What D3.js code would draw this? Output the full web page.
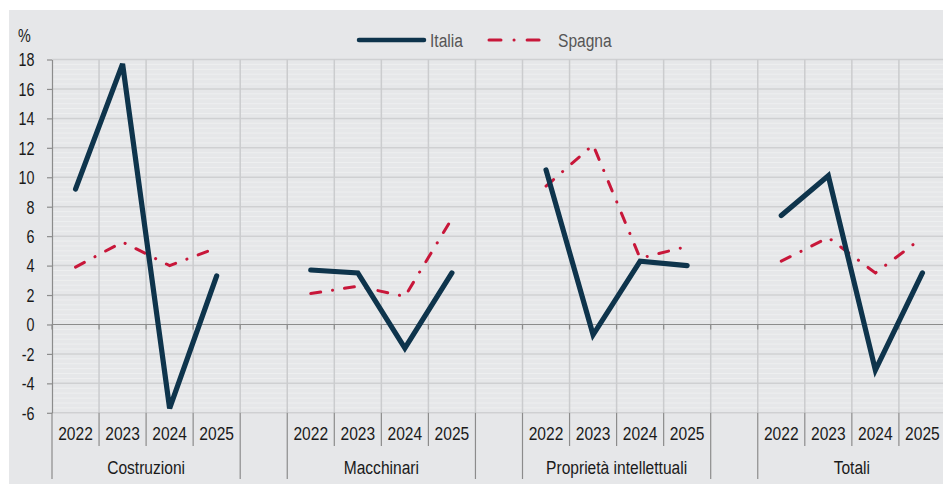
<!DOCTYPE html>
<html>
<head>
<meta charset="utf-8">
<script src="https://cdn.jsdelivr.net/npm/d3@7"></script>
<style>
  body { margin: 0; background: #fff; }
  svg { display: block; font-family: "Liberation Sans", Arial, sans-serif; }
</style>
</head>
<body>
<div id="chart"></div>
<script>
// categories and series
var years = ["2022", "2023", "2024", "2025"];
var groups = ["Costruzioni", "Macchinari", "Proprietà intellettuali", "Totali"];
var italia = [
    [9.2, 17.7, -5.7, 3.3],
    [3.7, 3.5, -1.6, 3.5],
    [10.5, -0.7, 4.3, 4.0],
    [7.4, 10.1, -3.1, 3.5]
];
var spagna = [
    [3.9, 5.6, 4.0, 5.2],
    [2.1, 2.6, 1.9, 7.2],
    [9.4, 12.2, 4.5, 5.3],
    [4.3, 5.9, 3.5, 5.9]
];
var yTicks = [-6, -4, -2, 0, 2, 4, 6, 8, 10, 12, 14, 16, 18];

var width = 943, height = 486;
var margin = { top: 59.5, left: 52, bottom: 412.8 };
var slotW = 47.05;
var squeeze = 0.82; // no narrow font installed, so squeeze text sideways

var svg = d3.select("#chart").append("svg")
    .attr("width", width)
    .attr("height", height);

// place a text at (px, py), squeezed horizontally
function narrowText(sel, px, py, size) {
    return sel.attr("x", 0).attr("y", 0)
        .attr("transform", `translate(${px},${py}) scale(${squeeze},1)`)
        .style("font-size", size + "px");
}

// grey panel
svg.append("rect")
    .attr("x", 9).attr("y", 10)
    .attr("width", width - 9).attr("height", 474)
    .attr("fill", "#e6e7e9");

// slots: 4 years per group, one empty slot between groups
var slots = [];
groups.forEach(function (g, gi) {
    years.forEach(function (yr) { slots.push(g + "|" + yr); });
    if (gi < groups.length - 1) slots.push("gap" + gi);
});

var x = d3.scaleBand()
    .domain(slots)
    .range([margin.left, margin.left + slots.length * slotW]);

var y = d3.scaleLinear()
    .domain([-6, 18])
    .range([margin.bottom, margin.top]);

var x0 = margin.left, x1 = margin.left + slots.length * slotW;

// faint stripes
svg.append("g").selectAll("line")
    .data(d3.range(-6, 18, 1 / 3))
    .enter().append("line")
    .attr("x1", x0).attr("x2", x1)
    .attr("y1", d => y(d)).attr("y2", d => y(d))
    .attr("stroke", "#eeeff0")
    .attr("stroke-width", 1);

// horizontal grid
svg.append("g").selectAll("line")
    .data(yTicks.filter(d => d !== 0))
    .enter().append("line")
    .attr("x1", x0).attr("x2", x1)
    .attr("y1", d => y(d)).attr("y2", d => y(d))
    .attr("stroke", "#cfd0d2")
    .attr("stroke-width", 1.5);

// vertical grid at slot boundaries
var bounds = slots.map(s => x(s)).concat([x1]);
svg.append("g").selectAll("line")
    .data(bounds.slice(1))
    .enter().append("line")
    .attr("x1", d => d).attr("x2", d => d)
    .attr("y1", margin.top).attr("y2", margin.bottom)
    .attr("stroke", "#cbccce")
    .attr("stroke-width", 1.5);

// zero line with ticks
svg.append("line")
    .attr("x1", x0).attr("x2", x1)
    .attr("y1", y(0)).attr("y2", y(0))
    .attr("stroke", "#8c8c8c")
    .attr("stroke-width", 1.2);
svg.append("g").selectAll("line")
    .data(bounds)
    .enter().append("line")
    .attr("x1", d => d).attr("x2", d => d)
    .attr("y1", y(0)).attr("y2", y(0) + 5)
    .attr("stroke", "#8c8c8c")
    .attr("stroke-width", 1.2);

// y axis (plain hyphen for negatives, like the original)
var yAxis = svg.append("g")
    .attr("transform", `translate(${x0},0)`)
    .call(d3.axisLeft(y).tickValues(yTicks).tickFormat(d => String(d))
        .tickSize(5).tickPadding(12).tickSizeOuter(0));
yAxis.select(".domain").attr("stroke", "#8c8c8c").attr("stroke-width", 1.2);
yAxis.selectAll(".tick line").attr("stroke", "#8c8c8c").attr("stroke-width", 1.2);
yAxis.selectAll(".tick text")
    .attr("fill", "#1a1a1a")
    .attr("dy", null)
    .style("font-family", "inherit")
    .each(function () {
        narrowText(d3.select(this), -17.5, 6.3, 17.5);
    });

narrowText(svg.append("text"), 18, 42, 17.5)
    .attr("fill", "#1a1a1a")
    .text("%");

// category axis below the plot
var lower = svg.append("g");
// short separators between years
slots.forEach(function (s) {
    if (s.indexOf("|") < 0) return;
    var yr = s.split("|")[1];
    if (yr !== years[0]) {
        lower.append("line")
            .attr("x1", x(s)).attr("x2", x(s))
            .attr("y1", margin.bottom).attr("y2", 446)
            .attr("stroke", "#8c8c8c").attr("stroke-width", 1.2);
    }
    narrowText(lower.append("text"), x(s) + x.bandwidth() / 2, 440, 19)
        .attr("text-anchor", "middle")
        .attr("fill", "#1a1a1a")
        .text(yr);
});
// long separators at group edges
groups.forEach(function (g) {
    var a = x(g + "|" + years[0]);
    var b = x(g + "|" + years[years.length - 1]) + x.bandwidth();
    [a, b].forEach(function (px) {
        lower.append("line")
            .attr("x1", px).attr("x2", px)
            .attr("y1", margin.bottom).attr("y2", 479)
            .attr("stroke", "#8c8c8c").attr("stroke-width", 1.2);
    });
    narrowText(lower.append("text"), (a + b) / 2, 474, 19)
        .attr("text-anchor", "middle")
        .attr("fill", "#1a1a1a")
        .text(g);
});

// lines, one piece per group
var line = d3.line()
    .x(d => x(d.slot) + x.bandwidth() / 2)
    .y(d => y(d.v));

function pieces(series) {
    return groups.map(function (g, gi) {
        return years.map(function (yr, j) { return { slot: g + "|" + yr, v: series[gi][j] }; });
    });
}

svg.append("g").selectAll("path")
    .data(pieces(spagna))
    .enter().append("path")
    .attr("d", line)
    .attr("fill", "none")
    .attr("stroke", "#c8173a")
    .attr("stroke-width", 3)
    .attr("stroke-linecap", "round")
    .attr("stroke-dasharray", "10,12,0.1,12");

svg.append("g").selectAll("path")
    .data(pieces(italia))
    .enter().append("path")
    .attr("d", line)
    .attr("fill", "none")
    .attr("stroke", "#0e344c")
    .attr("stroke-width", 5.2)
    .attr("stroke-linecap", "round")
    .attr("stroke-linejoin", "miter");

// legend
var legend = svg.append("g");
legend.append("line")
    .attr("x1", 359).attr("x2", 424).attr("y1", 40).attr("y2", 40)
    .attr("stroke", "#0e344c").attr("stroke-width", 4.5).attr("stroke-linecap", "round");
narrowText(legend.append("text"), 430, 46.5, 19)
    .attr("fill", "#555")
    .text("Italia");
legend.append("line")
    .attr("x1", 489).attr("x2", 542).attr("y1", 40).attr("y2", 40)
    .attr("stroke", "#c8173a").attr("stroke-width", 3).attr("stroke-linecap", "round")
    .attr("stroke-dasharray", "12,13,0.1,13");
narrowText(legend.append("text"), 558, 46.5, 19)
    .attr("fill", "#555")
    .text("Spagna");
</script>
</body>
</html>
